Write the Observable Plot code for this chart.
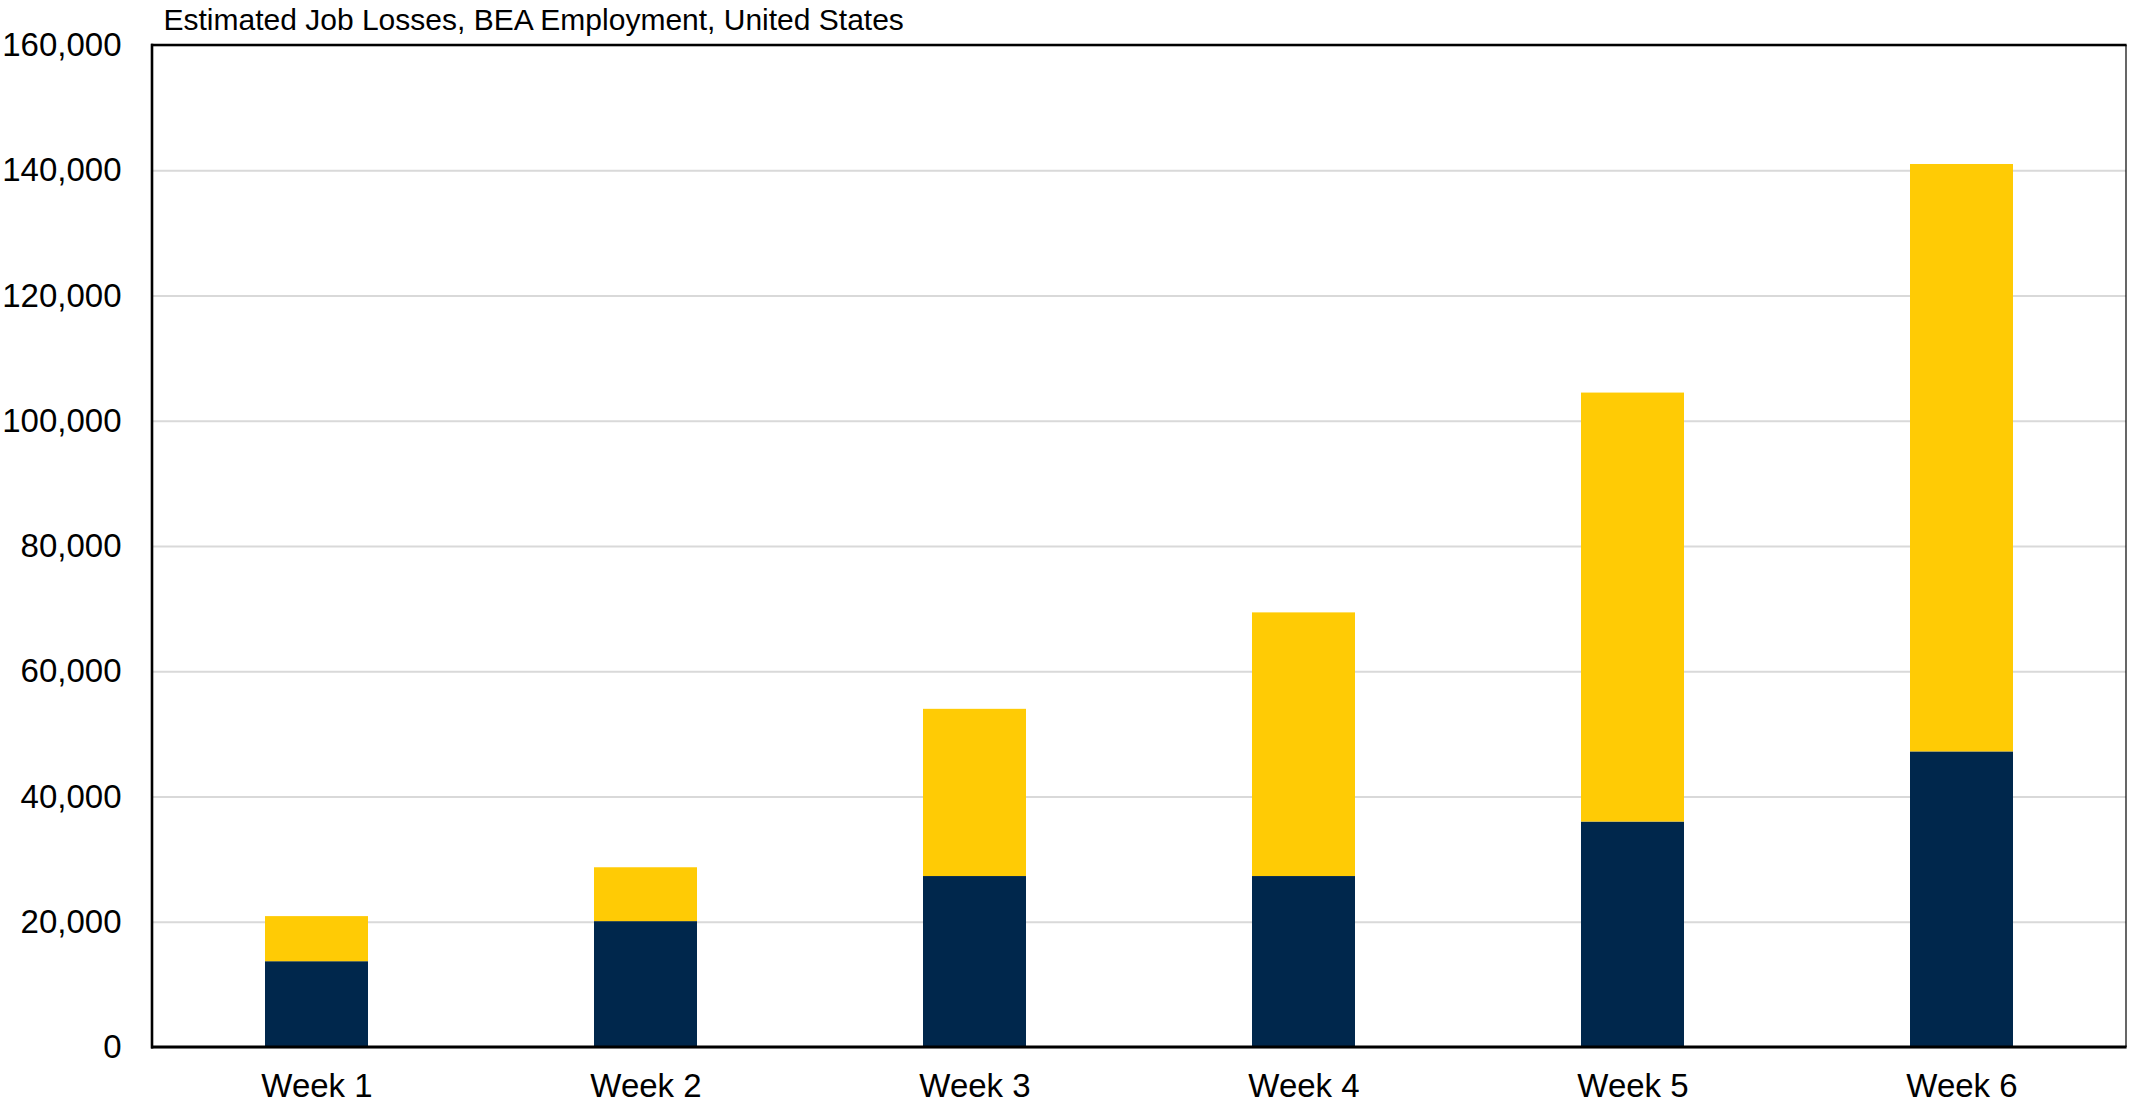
<!DOCTYPE html>
<html>
<head>
<meta charset="utf-8">
<script src="https://cdn.jsdelivr.net/npm/d3@7"></script>
<script src="https://cdn.jsdelivr.net/npm/@observablehq/plot@0.6"></script>
<style>
  html, body { margin: 0; padding: 0; background: #fff; overflow: hidden; }
  #chart svg { display: block; }
</style>
</head>
<body>
<div id="chart"></div>
<script>
const title = "Estimated Job Losses, BEA Employment, United States";
const weeks = ["Week 1", "Week 2", "Week 3", "Week 4", "Week 5", "Week 6"];
const seriesNames = ["Lower", "Upper"];
const lowerValues = [13700, 20100, 27300, 27300, 36000, 47200];
const upperValues = [7200, 8600, 26700, 42100, 68500, 93800];
const yTicks = [0, 20000, 40000, 60000, 80000, 100000, 120000, 140000, 160000];
const colors = ["#00274C", "#FFCB05"];

const data = [];
weeks.forEach((w, i) => {
  data.push({week: w, series: seriesNames[0], value: lowerValues[i]});
  data.push({week: w, series: seriesNames[1], value: upperValues[i]});
});

const font = "Liberation Sans, Arial, Helvetica, sans-serif";

const edges = (index, scales, values, dims) => {
  const g = d3.create("svg:g").attr("stroke", "#000").attr("fill", "none");
  const l = dims.marginLeft, r = dims.width - dims.marginRight;
  const t = dims.marginTop, b = dims.height - dims.marginBottom;
  g.append("line").attr("x1", r).attr("x2", r).attr("y1", t).attr("y2", b).attr("stroke-width", 1.2);
  g.append("line").attr("x1", l - 1).attr("x2", r + 0.6).attr("y1", t).attr("y2", t).attr("stroke-width", 2.6);
  g.append("line").attr("x1", l - 1).attr("x2", r + 0.6).attr("y1", b).attr("y2", b).attr("stroke-width", 2.8);
  g.append("line").attr("x1", l).attr("x2", l).attr("y1", t - 1.3).attr("y2", b + 1.4).attr("stroke-width", 2.6);
  return g.node();
};

const chart = Plot.plot({
  width: 2129,
  height: 1103,
  marginTop: 45,
  marginBottom: 56,
  marginLeft: 152,
  marginRight: 3,
  style: {fontFamily: font, background: "#fff", color: "#000"},
  x: {domain: weeks, paddingInner: 0.687, paddingOuter: 0.3435, label: null},
  y: {domain: [0, 160000], label: null},
  color: {domain: seriesNames, range: colors},
  marks: [
    Plot.gridY(yTicks, {stroke: "#d9d9d9", strokeOpacity: 1, strokeWidth: 2}),
    Plot.barY(data, {x: "week", y: "value", fill: "series", order: seriesNames, inset: 0}),
    Plot.axisY(yTicks, {tickSize: 0, tickPadding: 31, tickFormat: d3.format(","), fontSize: 33, label: null}),
    Plot.axisX({tickSize: 0, tickPadding: 26, fontSize: 33, label: null}),
    edges,
    Plot.text([title], {frameAnchor: "top-left", lineAnchor: "middle", text: d => d, dx: 11, dy: -25, textAnchor: "start", fontSize: 30, fill: "#000"})
  ]
});
document.getElementById("chart").appendChild(chart);
</script>
</body>
</html>
